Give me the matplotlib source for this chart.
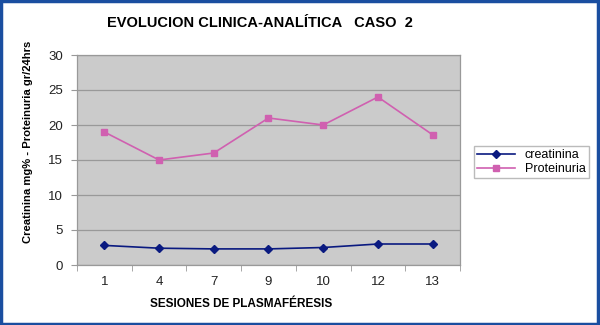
import matplotlib.pyplot as plt
import numpy as np

plt.rcParams['font.family'] = ['Liberation Sans', 'DejaVu Sans']

sesiones = ['1', '4', '7', '9', '10', '12', '13']
creatinina = [2.8, 2.4, 2.3, 2.3, 2.5, 3.0, 3.0]
proteinuria = [19.0, 15.0, 16.0, 21.0, 20.0, 24.0, 18.6]

fig = plt.figure(figsize=(6, 3.25), dpi=100)
fig.patch.set_facecolor('white')
ax = fig.add_axes([77/600, 1-265/325, 383/600, 210/325])
ax.set_facecolor('#cbcbcb')

x = np.arange(len(sesiones))
ax.plot(x, creatinina, color='#0a1a80', marker='D', ms=4, lw=1.2, label='creatinina')
ax.plot(x, proteinuria, color='#d060b0', marker='s', ms=4.5, lw=1.2, label='Proteinuria')

ax.set_xlim(-0.5, len(sesiones) - 0.5)
ax.set_ylim(0, 30)
ax.set_yticks(range(0, 31, 5))
ax.set_xticks(x)
ax.set_xticklabels(sesiones)
ax.set_xticks(np.arange(-0.5, len(sesiones)), minor=True)
ax.tick_params(axis='x', which='major', length=0, pad=8)
ax.tick_params(axis='x', which='minor', length=4, color='#999999')
ax.tick_params(axis='y', length=4, color='#999999', pad=6)
ax.tick_params(labelsize=9.5, labelcolor='#222222')
ax.yaxis.grid(True, color='#999999', lw=0.9)
ax.set_axisbelow(True)
for s in ax.spines.values():
    s.set_color('#999999')
    s.set_linewidth(0.9)

ax.set_xlabel('SESIONES DE PLASMAFÉRESIS', fontsize=8.5, fontweight='bold')
ax.xaxis.set_label_coords(0.428, -0.155)
ax.set_ylabel('Creatinina mg% - Proteinuria gr/24hrs', fontsize=8.1, fontweight='bold')
ax.yaxis.set_label_coords(-0.115, 0.585)
fig.text(0.433, 0.929, 'EVOLUCION CLINICA-ANALÍTICA   CASO  2', ha='center', va='center',
         fontsize=10.5, fontweight='bold')

leg = ax.legend(loc='center left', bbox_to_anchor=(1.02, 0.49), fontsize=9,
                frameon=True, fancybox=False, edgecolor='#aaaaaa', handlelength=3,
                borderpad=0.25, labelspacing=0.15)

fig.add_artist(plt.Rectangle((0.002, 0.004), 0.994, 0.992, transform=fig.transFigure,
                             fill=False, edgecolor='#1a4ea0', lw=2.5))

fig.savefig('out.png', dpi=100)
